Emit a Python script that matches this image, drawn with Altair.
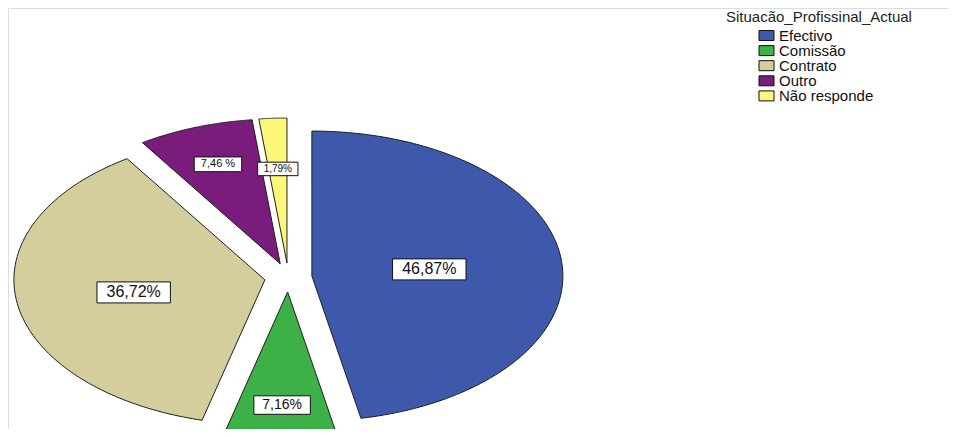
import altair as alt
import pandas as pd

# ---- data ----
CATEGORIES = ["Efectivo", "Comissão", "Contrato", "Outro", "Não responde"]
PERCENTS = [46.87, 7.16, 36.72, 7.46, 1.79]
LABELS = ["46,87%", "7,16%", "36,72%", "7,46 %", "1,79%"]
LEGEND_TITLE = "Situacão_Profissinal_Actual"

# ---- styles / layout (page pixel units) ----
COLORS = ["#3E58AC", "#3DB047", "#D3CE9C", "#7A1C7C", "#FBF779"]
FONT = "Liberation Sans"
W, H = 941, 421
CX, CY = 288.3, 277.5      # pie centre
RX, RY = 251, 145          # elliptical radii
EX, EY = 23.7, 14.5        # explode offsets
N = 120                    # arc resolution
LABEL_R = [0.47, 0.78, 0.53, 0.73, 0.65]
LABEL_FS = [16, 14, 16, 11, 10]
LEG_X0, LEG_X1 = 759, 774
LEG_Y0, LEG_DY, LEG_H = 35.5, 15.1, 10
LEG_TEXT_X = 779
LEG_FS = 15
TITLE_X, TITLE_Y = 726, 16.5

EM = {"0": .556, "1": .556, "2": .556, "3": .556, "4": .556, "5": .556,
      "6": .556, "7": .556, "8": .556, "9": .556, ",": .278, " ": .278, "%": .889}


def text_em(s):
    return sum(EM.get(c, .556) for c in s)


df = pd.DataFrame({
    "cat": CATEGORIES,
    "pct": PERCENTS,
    "label": LABELS,
    "idx": list(range(len(CATEGORIES))),
    "lr": LABEL_R,
    "fs": LABEL_FS,
})
df["bw"] = [text_em(s) * f + 1.2 * f for s, f in zip(LABELS, LABEL_FS)]
df["bh"] = [1.25 * f + 1 for f in LABEL_FS]

xs = alt.Scale(domain=[8, 8 + W], nice=False, zero=False)
ys = alt.Scale(domain=[8, 8 + H], nice=False, zero=False, reverse=True)
cs = alt.Scale(domain=CATEGORIES, range=COLORS)

base = (
    alt.Chart(df)
    .transform_window(cum="sum(pct)", sort=[alt.SortField("idx")], frame=[None, 0])
    .transform_calculate(a0="(datum.cum - datum.pct) / 100 * 2 * PI")
    .transform_calculate(a1="datum.cum / 100 * 2 * PI")
    .transform_calculate(mid="(datum.a0 + datum.a1) / 2")
    .transform_calculate(ox=f"{CX} + {EX} * sin(datum.mid)")
    .transform_calculate(oy=f"{CY} - {EY} * cos(datum.mid)")
)

slices = (
    base.transform_calculate(t=f"sequence(0, {N + 3})")
    .transform_flatten(["t"])
    .transform_calculate(ang=f"datum.a0 + (datum.t - 1) / {N} * (datum.a1 - datum.a0)")
    .transform_calculate(
        edge=f"datum.t == 0 || datum.t == {N + 2}")
    .transform_calculate(
        px=f"datum.edge ? datum.ox : datum.ox + {RX} * sin(datum.ang)")
    .transform_calculate(
        py=f"datum.edge ? datum.oy : datum.oy - {RY} * cos(datum.ang)")
    .mark_line(stroke="#1e1e1e", strokeWidth=1, strokeJoin="miter")
    .encode(
        x=alt.X("px:Q", scale=xs, axis=None),
        y=alt.Y("py:Q", scale=ys, axis=None),
        fill=alt.Fill("cat:N", scale=cs, legend=None),
        detail="cat:N",
        order="t:Q",
    )
)

lab = (
    base.transform_calculate(lx=f"datum.ox + datum.lr * {RX} * sin(datum.mid)")
    .transform_calculate(ly=f"datum.oy - datum.lr * {RY} * cos(datum.mid)")
    .transform_calculate(lx0="datum.lx - datum.bw / 2", lx1="datum.lx + datum.bw / 2")
    .transform_calculate(ly0="datum.ly - datum.bh / 2", ly1="datum.ly + datum.bh / 2")
)

boxes = lab.mark_rect(fill="white", stroke="#111", strokeWidth=1).encode(
    x=alt.X("lx0:Q", scale=xs, axis=None), x2="lx1:Q",
    y=alt.Y("ly0:Q", scale=ys, axis=None), y2="ly1:Q",
)

texts = lab.mark_text(font=FONT, color="#111", baseline="middle", align="center").encode(
    x=alt.X("lx:Q", scale=xs, axis=None),
    y=alt.Y("ly:Q", scale=ys, axis=None),
    text="label:N",
    size=alt.Size("fs:Q", scale=None, legend=None),
)

leg = (
    alt.Chart(df)
    .transform_calculate(yc=f"{LEG_Y0} + datum.idx * {LEG_DY}")
    .transform_calculate(y0=f"datum.yc - {LEG_H / 2}", y1=f"datum.yc + {LEG_H / 2}")
)
leg_sym = leg.mark_rect(stroke="#111", strokeWidth=1).encode(
    x=alt.X("lx0:Q", scale=xs, axis=None), x2="lx1:Q",
    y=alt.Y("y0:Q", scale=ys, axis=None), y2="y1:Q",
    fill=alt.Fill("cat:N", scale=cs, legend=None),
).transform_calculate(lx0=f"{LEG_X0}", lx1=f"{LEG_X1}")

leg_txt = leg.transform_calculate(tx=f"{LEG_TEXT_X}").mark_text(
    font=FONT, fontSize=LEG_FS, color="#111", align="left", baseline="middle"
).encode(
    x=alt.X("tx:Q", scale=xs, axis=None),
    y=alt.Y("yc:Q", scale=ys, axis=None),
    text="cat:N",
)

title = alt.Chart(pd.DataFrame({"t": [LEGEND_TITLE]})).transform_calculate(
    tx=f"{TITLE_X}", ty=f"{TITLE_Y}"
).mark_text(
    font=FONT, fontSize=LEG_FS, color="#222", align="left", baseline="middle"
).encode(
    x=alt.X("tx:Q", scale=xs, axis=None),
    y=alt.Y("ty:Q", scale=ys, axis=None),
    text="t:N",
)

chart = (
    alt.layer(slices, boxes, texts, leg_sym, leg_txt, title)
    .properties(width=W, height=H, autosize=alt.AutoSizeParams(type="none"), padding=0)
    .configure_view(strokeWidth=0, stroke="transparent", fill="white")
    .configure_axis(domain=False, grid=False, ticks=False, labels=False)
    .configure(background="white")
)

chart.save("out.html", embed_options={"renderer": "svg", "actions": False})
